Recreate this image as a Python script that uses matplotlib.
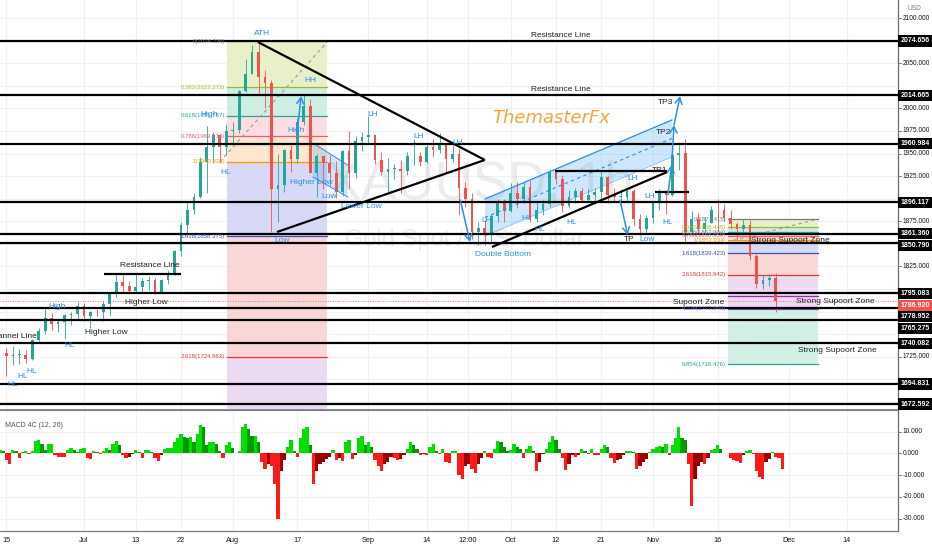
import matplotlib
matplotlib.use('Agg')
import matplotlib.pyplot as plt
import matplotlib.transforms as mtransforms
from matplotlib.patches import Rectangle, Polygon
import numpy as np

plt.rcParams['font.family'] = ['Liberation Sans', 'DejaVu Sans']

# ---------------- data ----------------
# daily candles, trading days counted from Jun 15
open_first = 1729.0
close = [1726, 1727, 1727, 1722, 1743, 1754, 1768, 1761, 1763, 1771,
         1772, 1781, 1770, 1775, 1774, 1783, 1795, 1808, 1803, 1798,
         1802, 1809, 1810, 1796, 1810, 1817, 1842, 1871, 1887, 1902,
         1941, 1957, 1970, 1957, 1975, 1976, 2019, 2038, 2063, 2035,
         2028, 1911, 1915, 1954, 1944, 1985, 2003, 1929, 1947, 1940,
         1928, 1907, 1953, 1929, 1964, 1968, 1970, 1943, 1930, 1933,
         1933, 1931, 1947, 1947, 1941, 1957, 1954, 1960, 1944, 1950,
         1912, 1900, 1863, 1868, 1862, 1881, 1898, 1886, 1906, 1900,
         1913, 1877, 1887, 1894, 1930, 1922, 1892, 1902, 1908, 1899,
         1904, 1907, 1924, 1904, 1902, 1902, 1908, 1878, 1867, 1879,
         1895, 1909, 1904, 1948, 1951, 1863, 1877, 1866, 1873, 1888,
         1887, 1879, 1872, 1866, 1871, 1837, 1805, 1810, 1812, 1786.92]
high = [1735, 1737, 1734, 1733, 1745, 1757, 1779, 1773, 1768, 1772,
        1775, 1786, 1785, 1776, 1778, 1787, 1797, 1818, 1818, 1809,
        1817, 1812, 1814, 1812, 1811, 1821, 1843, 1874, 1898, 1906,
        1946, 1981, 1974, 1968, 1983, 1985, 2020, 2055, 2070, 2075,
        2043, 2031, 1949, 1955, 1960, 1989, 2015, 2010, 1950, 1947,
        1948, 1942, 1954, 1975, 1969, 1974, 1992, 1971, 1952, 1945,
        1938, 1943, 1952, 1966, 1952, 1961, 1966, 1973, 1962, 1960,
        1955, 1919, 1906, 1874, 1876, 1883, 1900, 1900, 1917, 1918,
        1920, 1921, 1896, 1899, 1933, 1933, 1926, 1910, 1912, 1912,
        1911, 1912, 1931, 1925, 1912, 1911, 1911, 1911, 1883, 1882,
        1898, 1911, 1910, 1952, 1960, 1966, 1886, 1884, 1880, 1892,
        1900, 1894, 1887, 1874, 1877, 1876, 1839, 1816, 1816, 1818]
low = [1704, 1716, 1717, 1718, 1721, 1741, 1750, 1755, 1752, 1745,
       1760, 1766, 1765, 1757, 1770, 1765, 1771, 1791, 1797, 1795,
       1797, 1797, 1799, 1795, 1795, 1805, 1816, 1837, 1860, 1883,
       1901, 1906, 1939, 1939, 1948, 1961, 1973, 2018, 2038, 2015,
       2001, 1863, 1874, 1907, 1930, 1939, 1982, 1928, 1902, 1911,
       1914, 1901, 1903, 1911, 1923, 1953, 1963, 1938, 1926, 1907,
       1922, 1906, 1926, 1937, 1936, 1939, 1946, 1951, 1930, 1941,
       1882, 1891, 1855, 1849, 1849, 1851, 1874, 1874, 1885, 1890,
       1895, 1874, 1874, 1882, 1891, 1916, 1885, 1890, 1895, 1896,
       1896, 1894, 1901, 1895, 1897, 1890, 1897, 1870, 1860, 1863,
       1873, 1888, 1883, 1903, 1932, 1851, 1862, 1861, 1862, 1873,
       1863, 1875, 1866, 1855, 1860, 1832, 1801, 1800, 1803, 1775]

# MACD 4C values, one per half trading day starting one day before Jun 15
macd_start = -1.0
macd_step = 0.5
macd = [1.5, 1, -3, -5, 1.5, 1, -2, 0.5, 1, -0.5,
        1, 5.5, 6, 4.5, 1.5, 4.5, 4.5, -1, -1.5, -1.5,
        -1.5, 1.5, 2.5, 1.5, 0.5, 2, 2.5, -2, -2.5, 1,
        0.8, -0.5, 1, 2.5, 1.5, 4.5, 5.5, 4, -1, -2,
        -1.5, -0.5, 1.5, 0.5, -2, 1.5, 1.5, 0.5, -2, -3.5,
        -1, 2, 2.5, 2.5, 5, 7, 9, 7.5, 7, 7.5,
        5, 9, 13, 12, 4, 5, 5, 4.5, 1, -2,
        4, 5, 2.5, 0, 1, 12, 13.5, 11, 8, 8,
        5, -4, -7, -5, -6, -14, -30, -8, -3, 3,
        6, 1, -1.5, 7, 11, 12, 4, -14, -8, -5,
        -4, -2.5, -1.5, 1.5, -3, -2, -3.5, 5, 6, -2.5,
        -1, 7, 8, 4, 5, 3, -3, -6, -8, -5,
        -4, -1.5, -2, -3, -2.5, -1, 2, 5, 4, 2,
        -1, -0.5, -1, 3, 4.5, 1, -0.5, 2, -4, -4.5,
        1, 1, -10, -12, -6, -5, -7, -9, -5, -2,
        1, -1.5, -2, 2, 5.5, 5, 3, 1, 1.5, 4.5,
        3, 2, -2, 2, 3.5, 1, -8, -4, -0.5, 2,
        5, 8, 6, 2, -2, -7.5, -5, -1, -1.5, -1,
        2, 1, -0.5, 2, -1, -1, 2, 4, 3, -2,
        -4.5, -3, -2.5, -1, 1, 1, 0.5, -7, -6, -4,
        -2.5, 0.5, 2, 3, 3.5, 3, 4.5, -1, 4, 7,
        12, 7, 6, -5, -24, -12, -6, -4, -5, -2,
        1.5, 2, 4, 2, 0.3, 0.2, -2, -3, -3.5, -4.5,
        -1, 1, 1.5, -0.5, -8, -11, -12, -4, -2.5, 0.5,
        -1.5, -2, -7]

level_prices = [2074.656, 2014.665, 1960.984, 1896.117, 1861.360, 1850.790,
                1795.083, 1778.952, 1765.275, 1740.082, 1694.831, 1672.592]
last_price = 1786.920

tick_days = [0, 12, 20, 27, 35, 45, 56, 65, 71.4, 78, 85, 92, 100, 110, 121, 130]
tick_labels = ['15', 'Jul', '13', '22', 'Aug', '17', 'Sep', '14', '12:00', 'Oct',
               '12', '21', 'Nov', '16', 'Dec', '14']
macd_ticks = [10, 0, -10, -20, -30]

fib_levels_1 = [0, 0.382, 0.618, 0.786, 1, 1.618, 2.618, 3.618]
fib_levels_2 = [0, 0.382, 0.618, 0.786, 1, 1.618, 2.618, 3.618, 4.236, 6.854]
fib1 = dict(p0=2074.236, p1=1940.824, x0=34.1, x1=49.6)
fib2 = dict(p0=1877.415, p1=1853.934, x0=111.6, x1=125.5)

# ---------------- styling ----------------
UP, DN = '#26a69a', '#ef5350'
BLUE = '#2d8fe6'
GRID = '#eff1f5'
TXT = '#131722'
lvl_color = {0: '#787b86', 0.382: '#a2b62c', 0.618: '#26a69a', 0.786: '#ef5a7a',
             1: '#ff9800', 1.618: '#3f51b5', 2.618: '#e53935', 3.618: '#9c27b0',
             4.236: '#7e57c2', 6.854: '#26a69a'}
band_color = {0.382: '#e7f0c9', 0.618: '#cfeee3', 0.786: '#fbdde2', 1: '#fde7cf',
              1.618: '#d7d9f6', 2.618: '#f9d7d7', 3.618: '#ecd9f2', 4.236: '#ecd9f2',
              6.854: '#d3f0e6'}

W, H = 932, 550
fig = plt.figure(figsize=(W / 100, H / 100), dpi=100)
ax = fig.add_axes([0, 140 / H, 898 / W, 410 / H])
axm = fig.add_axes([0, 19 / H, 898 / W, 121 / H])

XMIN, XMAX = -0.99, 137.9
YMIN, YMAX = 1666.0, 2120.06
ax.set_xlim(XMIN, XMAX)
ax.set_ylim(YMIN, YMAX)
axm.set_xlim(XMIN, XMAX)
axm.set_ylim(-35.7, 19.9)
ppx = (YMAX - YMIN) / 410.0   # price per pixel

# grid
for t in tick_days:
    ax.axvline(t, color=GRID, lw=0.8, zorder=0)
    axm.axvline(t, color=GRID, lw=0.8, zorder=0)
for p in range(1675, 2125, 25):
    ax.axhline(p, color=GRID, lw=0.8, zorder=0)
for v in macd_ticks:
    axm.axhline(v, color=GRID, lw=0.8, zorder=0)

# watermark
ax.text(0.535, 0.549, 'XAUUSD, 1h', transform=ax.transAxes, ha='center', va='center',
        fontsize=38, color='#787b86', alpha=0.14, zorder=0.5)
ax.text(0.518, 0.415, 'Gold Spot / U.S. Dollar', transform=ax.transAxes, ha='center',
        va='center', fontsize=17, color='#787b86', alpha=0.14, zorder=0.5)


# fib boxes
def draw_fib(f, levels, labels_shown, label_x):
    prices = [f['p0'] - l * (f['p0'] - f['p1']) for l in levels]
    for i in range(1, len(levels)):
        lo_, hi_ = prices[i], prices[i - 1]
        ax.add_patch(Rectangle((f['x0'], lo_), f['x1'] - f['x0'], hi_ - lo_,
                               facecolor=band_color[levels[i]], edgecolor='none', zorder=1))
    for l, p in zip(levels, prices):
        ax.plot([f['x0'], f['x1']], [p, p], color=lvl_color[l], lw=0.9, zorder=1.5)
        if l in labels_shown:
            ax.text(label_x, p, f"{l:g}({p:.3f})", ha='right', va='center',
                    fontsize=4.3, color=lvl_color[l], zorder=5)
    return prices


draw_fib(fib1, fib_levels_1, [0, 0.382, 0.618, 0.786, 1, 1.618, 2.618], 33.8)
draw_fib(fib2, fib_levels_2, [0, 0.382, 0.618, 0.786, 1, 1.618, 2.618, 4.236, 6.854], 111.3)
ax.plot([33.0, 49.7], [1940.8, 2074.2], color='#9598a1', lw=0.8, ls=(0, (3, 3)), zorder=1.6)
ax.plot([112.5, 125.5], [1853.9, 1877.4], color='#9598a1', lw=0.8, ls=(0, (3, 3)), zorder=1.6)

# blue channels
chan_top = [(74.02, 1899.7), (102.94, 1987.2)]
chan_bot = [(74.02, 1858.7), (102.94, 1946.2)]
ax.add_patch(Polygon(chan_top + chan_bot[::-1], closed=True, facecolor='#2196f3',
                     alpha=0.22, edgecolor='none', zorder=2))
ax.plot(*zip(*chan_top), color=BLUE, lw=0.9, zorder=4)
ax.plot([74.02, 102.94], [1879.2, 1966.7], color=BLUE, lw=0.8, ls=(0, (3, 3)), zorder=4)
ax.plot(*zip(*chan_bot), color=BLUE, lw=0.5, alpha=0.6, zorder=4)

aug_top = [(47.4, 1961.7), (52.8, 1937.3)]
aug_bot = [(47.4, 1924.05), (52.8, 1901.9)]
ax.add_patch(Polygon(aug_top + aug_bot[::-1], closed=True, facecolor='#2196f3',
                     alpha=0.22, edgecolor='none', zorder=2))
ax.plot(*zip(*aug_top), color=BLUE, lw=0.7, zorder=4)
ax.plot(*zip(*aug_bot), color=BLUE, lw=0.7, zorder=4)

# candles
c = np.array(close, float)
o = np.r_[open_first, c[:-1]]
hi = np.maximum(np.array(high, float), np.maximum(o, c))
lo = np.minimum(np.array(low, float), np.minimum(o, c))
days = np.arange(len(c))
cols = np.where(c >= o, UP, DN)
ax.vlines(days, lo, hi, colors=cols, lw=0.6, zorder=3)
ax.bar(days, np.maximum(np.abs(c - o), 0.8), bottom=np.minimum(o, c), width=0.42,
       color=cols, zorder=3.1, linewidth=0)

# horizontal levels
for p in level_prices:
    ax.axhline(p, color='black', lw=1.6, zorder=4)
ax.axhline(last_price, color='#ef5350', lw=0.6, ls=(0, (1, 2)), zorder=4)

# black drawings
black_lines = [
    [(38.9, 2073.5), (74.0, 1942.9)],
    [(41.85, 1863.1), (74.0, 1942.9)],
    [(15.1, 1816.6), (27.0, 1816.6)],
    [(75.1, 1846.5), (102.2, 1929.6)],
    [(84.8, 1930.7), (102.2, 1930.7)],
    [(100.3, 1907.8), (105.6, 1907.8)],
]
for seg in black_lines:
    ax.plot(*zip(*seg), color='black', lw=1.6, zorder=4.2, solid_capstyle='butt')

# arrows
arrows = [
    [(44.9, 1970.6), (45.6, 2013.7)],
    [(70.2, 1898.6), (71.7, 1852.1)],
    [(94.9, 1898.6), (96.1, 1859.8)],
    [(102.3, 1904.1), (102.9, 1937.3)],
    [(102.9, 1937.3), (103.25, 1981.6)],
    [(103.25, 1981.6), (104.2, 2013.7)],
]
for a, b in arrows:
    ax.annotate('', xy=b, xytext=a, zorder=4.5,
                arrowprops=dict(arrowstyle='->,head_length=0.45,head_width=0.25',
                                color=BLUE, lw=1.1, shrinkA=0, shrinkB=0))

# labels
blue_labels = [
    ('ATH', 39.5, 2083.5), ('HH', 46.96, 2030.4), ('High', 31.3, 1993.8),
    ('High', 44.8, 1975.0), ('HL', 33.96, 1928.5), ('Higher Low', 47.1, 1917.4),
    ('Low', 49.9, 1902.5), ('Lower Low', 54.9, 1891.0), ('Low', 42.6, 1853.2),
    ('LH', 56.7, 1993.8), ('LH', 63.8, 1968.4), ('LH', 69.8, 1961.7),
    ('LH', 74.3, 1876.4), ('HL', 80.5, 1878.6), ('HL', 82.5, 1865.4),
    ('HL', 87.5, 1874.2), ('LH', 96.8, 1922.0), ('LH', 99.5, 1901.9),
    ('HL', 102.3, 1873.1), ('Low', 99.1, 1854.3), ('Double Bottom', 76.8, 1837.7),
    ('High', 7.8, 1780.1), ('HL', 9.8, 1736.9), ('HL', 1.0, 1693.7),
    ('HL', 2.57, 1702.6), ('HL', 3.96, 1708.1),
]
for t, x, y in blue_labels:
    ax.text(x, y, t, ha='center', va='center', fontsize=6, color=BLUE, zorder=5)

black_labels = [
    ('TP', 96.4, 1854.3), ('TP1', 101.1, 1930.7), ('TP2', 101.7, 1972.8),
    ('TP3', 102.0, 2006.0), ('Resistance Line', 22.2, 1825.5),
    ('Higher Low', 21.6, 1785.6), ('Higher Low', 15.4, 1751.3),
    ('Resistance Line', 85.8, 2080.2), ('Resistance Line', 85.8, 2020.4),
    ('Strong Supoort Zone', 121.2, 1853.2), ('Strong Supoort Zone', 128.15, 1786.7),
    ('Strong Supoort Zone', 128.5, 1731.4), ('Supoort Zone', 107.1, 1784.5),
]
for t, x, y in black_labels:
    ax.text(x, y, t, ha='center', va='center', fontsize=6, color='#222222', zorder=5)
ax.text(4.73, 1746.9, 'Channel Line', ha='right', va='center', fontsize=6,
        color='#222222', zorder=5)
ax.text(84.2, 1989.4, 'ThemasterFx', ha='center', va='center', fontsize=13,
        style='italic', color='#f5a540', family='DejaVu Sans', zorder=5)

# MACD 4C
mv = np.array(macd, float)
mx = macd_start + macd_step * np.arange(len(mv))
prev = np.r_[mv[0], mv[:-1]]
mcol = np.where(mv >= 0, np.where(mv >= prev, '#00e000', '#009a00'),
                np.where(mv <= prev, '#ff1a1a', '#9a0000'))
axm.bar(mx, mv, width=macd_step, color=mcol, linewidth=0, zorder=2)
axm.text(0.0056, 0.876, 'MACD 4C (12, 26)', transform=axm.transAxes, fontsize=5,
         color='#555555', va='center', ha='left')

# axes cosmetics
for a in (ax, axm):
    a.set_yticks([])
    for s in ('left', 'top'):
        a.spines[s].set_visible(False)
    a.spines['right'].set_color('#666a73')
    a.spines['right'].set_linewidth(0.9)
ax.set_xticks([])
ax.spines['bottom'].set_color('#787b86')
ax.spines['bottom'].set_linewidth(1.2)
axm.spines['top'].set_visible(True)
axm.spines['top'].set_color('#787b86')
axm.spines['top'].set_linewidth(0.8)
axm.spines['bottom'].set_color('#787b86')
axm.spines['bottom'].set_linewidth(0.9)
axm.set_xticks(tick_days)
axm.set_xticklabels(tick_labels)
axm.tick_params(axis='x', length=0, labelsize=5.3, colors=TXT, pad=4.5)

# price tags with de-overlap (pixel space, top to bottom)
bt = mtransforms.blended_transform_factory(ax.transAxes, ax.transData)
tags = sorted([(p, 'black') for p in level_prices] + [(last_price, '#ef5350')],
              key=lambda t: -t[0])
tag_px = []
last = -100
for p, col in tags:
    ypx = (YMAX - p) / ppx
    ypx = max(ypx, last + 11.7)
    last = ypx
    tag_px.append(ypx)
    pd = YMAX - ypx * ppx
    ax.add_patch(Rectangle((1.0, pd - 5.6 * ppx), 34 / 898, 11.2 * ppx, transform=bt,
                           facecolor=col, edgecolor='none', clip_on=False, zorder=6))
    ax.text(1.0 + 17 / 898, pd, f"{p:.3f}", transform=bt, ha='center', va='center',
            fontsize=5, color='white', fontweight='bold', clip_on=False, zorder=7)

for p in range(1675, 2125, 25):
    ypx = (YMAX - p) / ppx
    if any(abs(ypx - t) < 9.5 for t in tag_px):
        continue
    ax.text(903 / 898, p, f"{p:.3f}", transform=bt, ha='left', va='center',
            fontsize=4.8, color=TXT, clip_on=False)
    ax.plot([1.0, 1.0 + 3 / 898], [p, p], transform=bt, color='#666a73', lw=0.6,
            clip_on=False)

btm = mtransforms.blended_transform_factory(axm.transAxes, axm.transData)
for v in macd_ticks:
    axm.text(903 / 898, v, f"{v:.3f}", transform=btm, ha='left', va='center',
             fontsize=4.8, color=TXT, clip_on=False)
    axm.plot([1.0, 1.0 + 3 / 898], [v, v], transform=btm, color='#666a73', lw=0.6,
             clip_on=False)

fig.text(914 / W, 1 - 9 / H, 'USD', ha='center', va='center', fontsize=4.8, color='#787b86')

fig.savefig('out.png', dpi=100)
